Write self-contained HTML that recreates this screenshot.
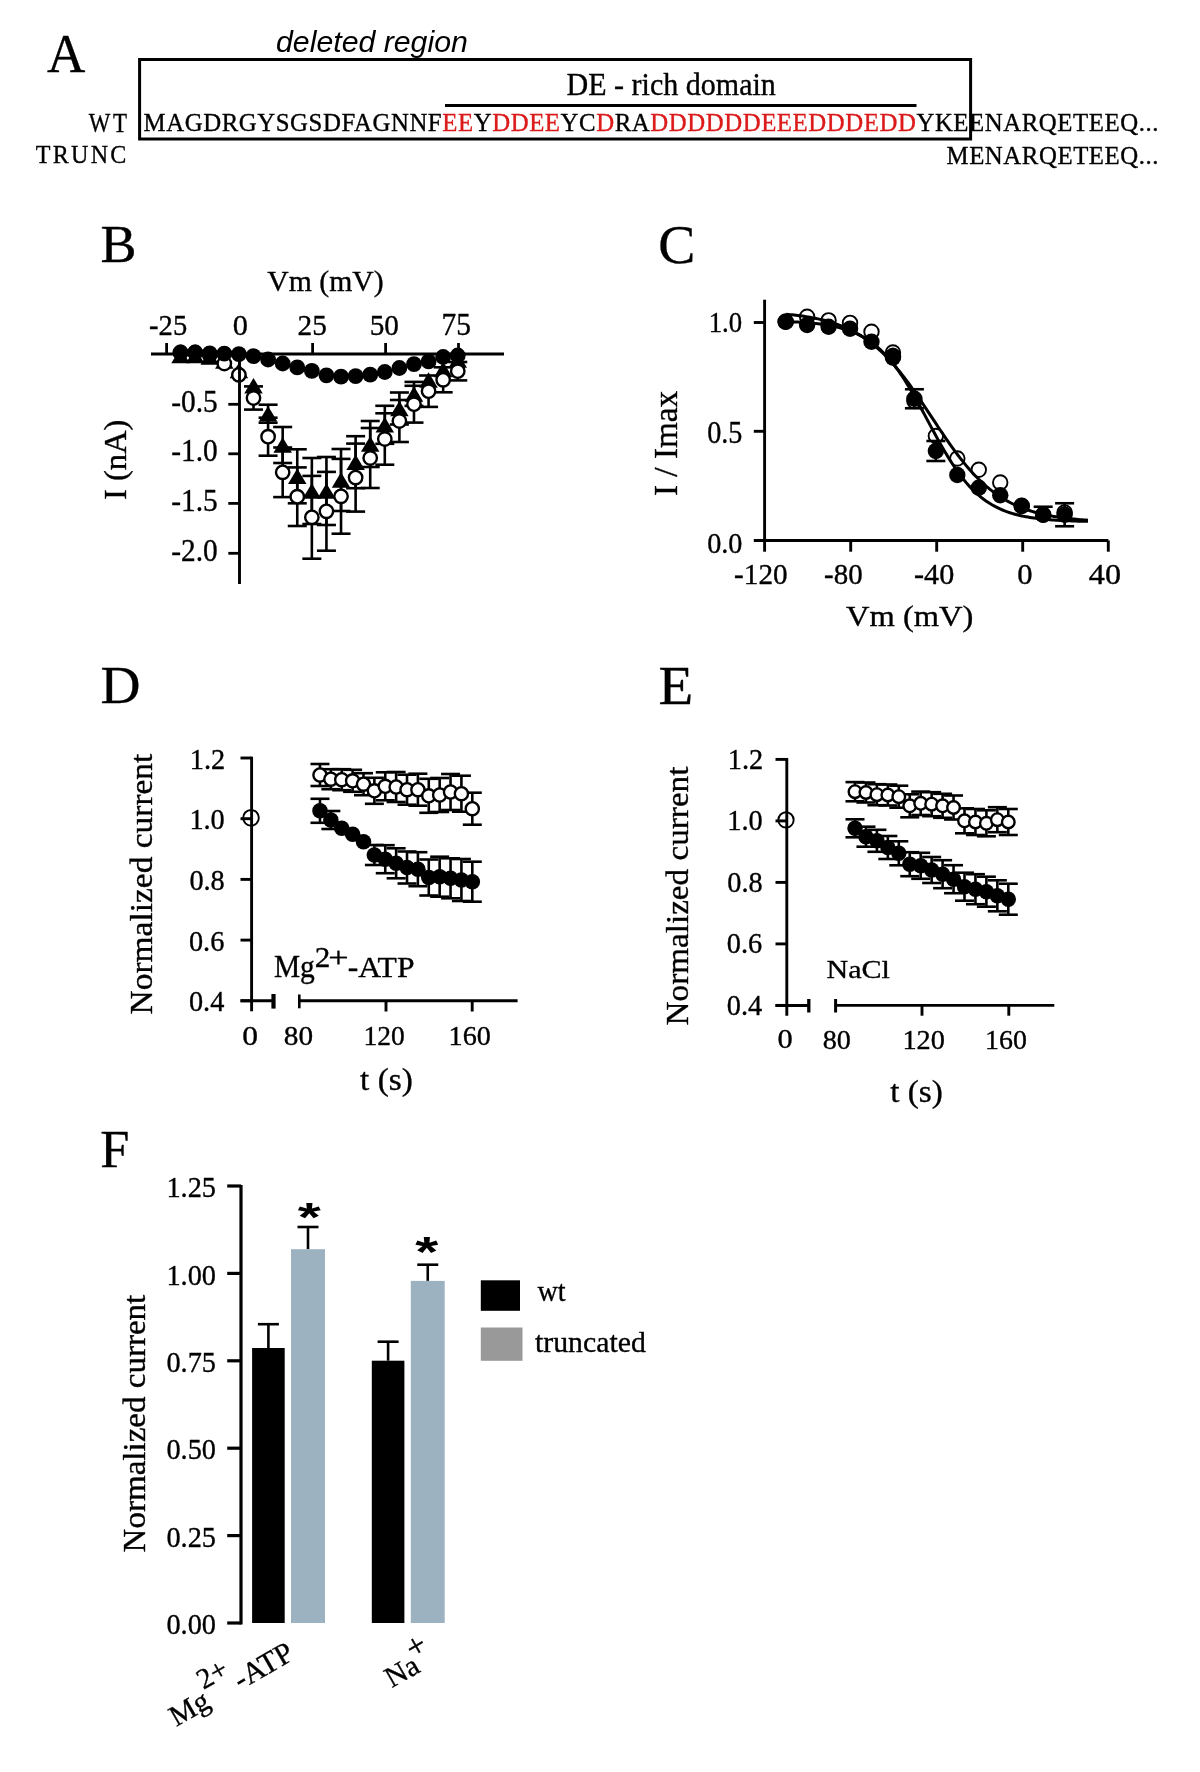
<!DOCTYPE html>
<html><head><meta charset="utf-8"><style>
html,body{margin:0;padding:0;background:#fff;}
svg{display:block;will-change:transform;}
text{font-kerning:normal;}
</style></head><body>
<svg width="1200" height="1772" viewBox="0 0 1200 1772">
<rect width="1200" height="1772" fill="#fff"/>
<text transform="translate(47.00,71.80) scale(0.9573,1)" font-family="'Liberation Serif', serif" font-size="55.52" fill="#000" stroke="#000" stroke-width="0.35" stroke-linejoin="round">A</text>
<text transform="translate(276.05,52.40) scale(0.9991,1)" font-family="'Liberation Sans', sans-serif" font-style="italic" font-size="30.30" fill="#000">deleted region</text>
<rect x="139.6" y="59.5" width="831" height="79.5" fill="none" stroke="#000" stroke-width="3"/>
<line x1="445.00" y1="105.50" x2="916.50" y2="105.50" stroke="#000" stroke-width="3.2" stroke-linecap="butt"/>
<text transform="translate(566.53,94.70) scale(0.9757,1)" font-family="'Liberation Serif', serif" font-size="30.80" fill="#000" stroke="#000" stroke-width="0.35" stroke-linejoin="round">DE - rich domain</text>
<text transform="translate(88.80,131.68) scale(0.8600,1)" font-family="'Liberation Serif', serif" font-size="26.64" letter-spacing="2.922" fill="#000" stroke="#000" stroke-width="0.35" stroke-linejoin="round">WT</text>
<text transform="translate(35.72,162.80) scale(0.9300,1)" font-family="'Liberation Serif', serif" font-size="25.89" letter-spacing="2.441" fill="#000" stroke="#000" stroke-width="0.35" stroke-linejoin="round">TRUNC</text>
<text transform="translate(143.61,130.67) scale(1.0000,1)" font-family="'Liberation Serif', serif" font-size="24.80" letter-spacing="0.572" fill="#000" stroke="#000" stroke-width="0.35" stroke-linejoin="round"><tspan>MAGDRGYSGSDFAGNNF</tspan><tspan fill="#dc1a1a" stroke="#dc1a1a">EE</tspan><tspan>Y</tspan><tspan fill="#dc1a1a" stroke="#dc1a1a">DDEE</tspan><tspan>YC</tspan><tspan fill="#dc1a1a" stroke="#dc1a1a">D</tspan><tspan>RA</tspan><tspan fill="#dc1a1a" stroke="#dc1a1a">DDDDDDEEEDDDEDD</tspan><tspan>YKEENARQETEEQ...</tspan></text>
<text transform="translate(946.53,164.00) scale(1.0000,1)" font-family="'Liberation Serif', serif" font-size="24.80" letter-spacing="0.572" fill="#000" stroke="#000" stroke-width="0.35" stroke-linejoin="round">MENARQETEEQ...</text>
<text transform="translate(100.46,261.69) scale(1.0364,1)" font-family="'Liberation Serif', serif" font-size="52.09" fill="#000" stroke="#000" stroke-width="0.35" stroke-linejoin="round">B</text>
<text transform="translate(267.30,291.29) scale(1.0290,1)" font-family="'Liberation Serif', serif" font-size="28.85" fill="#000" stroke="#000" stroke-width="0.35" stroke-linejoin="round">Vm (mV)</text>
<text transform="translate(149.11,334.73) scale(0.9535,1)" font-family="'Liberation Serif', serif" font-size="29.96" fill="#000" stroke="#000" stroke-width="0.35" stroke-linejoin="round">-25</text>
<text transform="translate(232.75,334.73) scale(1.0146,1)" font-family="'Liberation Serif', serif" font-size="29.96" fill="#000" stroke="#000" stroke-width="0.35" stroke-linejoin="round">0</text>
<text transform="translate(297.58,334.73) scale(0.9790,1)" font-family="'Liberation Serif', serif" font-size="29.96" fill="#000" stroke="#000" stroke-width="0.35" stroke-linejoin="round">25</text>
<text transform="translate(369.63,334.73) scale(0.9775,1)" font-family="'Liberation Serif', serif" font-size="29.96" fill="#000" stroke="#000" stroke-width="0.35" stroke-linejoin="round">50</text>
<text transform="translate(441.46,334.72) scale(0.9609,1)" font-family="'Liberation Serif', serif" font-size="30.66" fill="#000" stroke="#000" stroke-width="0.35" stroke-linejoin="round">75</text>
<text transform="translate(171.16,411.71) scale(0.9550,1)" font-family="'Liberation Serif', serif" font-size="30.80" fill="#000" stroke="#000" stroke-width="0.35" stroke-linejoin="round">-0.5</text>
<text transform="translate(171.16,461.41) scale(0.9550,1)" font-family="'Liberation Serif', serif" font-size="30.80" fill="#000" stroke="#000" stroke-width="0.35" stroke-linejoin="round">-1.0</text>
<text transform="translate(171.16,510.81) scale(0.9550,1)" font-family="'Liberation Serif', serif" font-size="30.80" fill="#000" stroke="#000" stroke-width="0.35" stroke-linejoin="round">-1.5</text>
<text transform="translate(171.16,560.71) scale(0.9550,1)" font-family="'Liberation Serif', serif" font-size="30.80" fill="#000" stroke="#000" stroke-width="0.35" stroke-linejoin="round">-2.0</text>
<text transform="translate(125.74,500.02) rotate(-90) scale(1.0523,1)" font-family="'Liberation Serif', serif" font-size="30.92" fill="#000" stroke="#000" stroke-width="0.35" stroke-linejoin="round">I (nA)</text>
<line x1="268.08" y1="404.70" x2="268.08" y2="422.70" stroke="#000" stroke-width="2.6" stroke-linecap="butt"/>
<line x1="258.58" y1="404.70" x2="277.58" y2="404.70" stroke="#000" stroke-width="2.6" stroke-linecap="butt"/>
<line x1="258.58" y1="422.70" x2="277.58" y2="422.70" stroke="#000" stroke-width="2.6" stroke-linecap="butt"/>
<line x1="282.67" y1="427.00" x2="282.67" y2="463.00" stroke="#000" stroke-width="2.6" stroke-linecap="butt"/>
<line x1="273.17" y1="427.00" x2="292.17" y2="427.00" stroke="#000" stroke-width="2.6" stroke-linecap="butt"/>
<line x1="273.17" y1="463.00" x2="292.17" y2="463.00" stroke="#000" stroke-width="2.6" stroke-linecap="butt"/>
<line x1="297.26" y1="449.30" x2="297.26" y2="503.30" stroke="#000" stroke-width="2.6" stroke-linecap="butt"/>
<line x1="287.76" y1="449.30" x2="306.76" y2="449.30" stroke="#000" stroke-width="2.6" stroke-linecap="butt"/>
<line x1="287.76" y1="503.30" x2="306.76" y2="503.30" stroke="#000" stroke-width="2.6" stroke-linecap="butt"/>
<line x1="311.85" y1="458.00" x2="311.85" y2="524.00" stroke="#000" stroke-width="2.6" stroke-linecap="butt"/>
<line x1="302.35" y1="458.00" x2="321.35" y2="458.00" stroke="#000" stroke-width="2.6" stroke-linecap="butt"/>
<line x1="302.35" y1="524.00" x2="321.35" y2="524.00" stroke="#000" stroke-width="2.6" stroke-linecap="butt"/>
<line x1="326.44" y1="457.00" x2="326.44" y2="525.00" stroke="#000" stroke-width="2.6" stroke-linecap="butt"/>
<line x1="316.94" y1="457.00" x2="335.94" y2="457.00" stroke="#000" stroke-width="2.6" stroke-linecap="butt"/>
<line x1="316.94" y1="525.00" x2="335.94" y2="525.00" stroke="#000" stroke-width="2.6" stroke-linecap="butt"/>
<line x1="341.03" y1="449.00" x2="341.03" y2="511.00" stroke="#000" stroke-width="2.6" stroke-linecap="butt"/>
<line x1="331.53" y1="449.00" x2="350.53" y2="449.00" stroke="#000" stroke-width="2.6" stroke-linecap="butt"/>
<line x1="331.53" y1="511.00" x2="350.53" y2="511.00" stroke="#000" stroke-width="2.6" stroke-linecap="butt"/>
<line x1="355.62" y1="436.20" x2="355.62" y2="488.20" stroke="#000" stroke-width="2.6" stroke-linecap="butt"/>
<line x1="346.12" y1="436.20" x2="365.12" y2="436.20" stroke="#000" stroke-width="2.6" stroke-linecap="butt"/>
<line x1="346.12" y1="488.20" x2="365.12" y2="488.20" stroke="#000" stroke-width="2.6" stroke-linecap="butt"/>
<line x1="370.21" y1="421.00" x2="370.21" y2="467.00" stroke="#000" stroke-width="2.6" stroke-linecap="butt"/>
<line x1="360.71" y1="421.00" x2="379.71" y2="421.00" stroke="#000" stroke-width="2.6" stroke-linecap="butt"/>
<line x1="360.71" y1="467.00" x2="379.71" y2="467.00" stroke="#000" stroke-width="2.6" stroke-linecap="butt"/>
<line x1="384.80" y1="405.80" x2="384.80" y2="443.80" stroke="#000" stroke-width="2.6" stroke-linecap="butt"/>
<line x1="375.30" y1="405.80" x2="394.30" y2="405.80" stroke="#000" stroke-width="2.6" stroke-linecap="butt"/>
<line x1="375.30" y1="443.80" x2="394.30" y2="443.80" stroke="#000" stroke-width="2.6" stroke-linecap="butt"/>
<line x1="399.39" y1="392.50" x2="399.39" y2="424.50" stroke="#000" stroke-width="2.6" stroke-linecap="butt"/>
<line x1="389.89" y1="392.50" x2="408.89" y2="392.50" stroke="#000" stroke-width="2.6" stroke-linecap="butt"/>
<line x1="389.89" y1="424.50" x2="408.89" y2="424.50" stroke="#000" stroke-width="2.6" stroke-linecap="butt"/>
<line x1="413.98" y1="381.90" x2="413.98" y2="405.90" stroke="#000" stroke-width="2.6" stroke-linecap="butt"/>
<line x1="404.48" y1="381.90" x2="423.48" y2="381.90" stroke="#000" stroke-width="2.6" stroke-linecap="butt"/>
<line x1="404.48" y1="405.90" x2="423.48" y2="405.90" stroke="#000" stroke-width="2.6" stroke-linecap="butt"/>
<path d="M180.54,347.75 L189.79,363.25 L171.29,363.25 Z" fill="#000"/>
<path d="M195.13,347.75 L204.38,363.25 L185.88,363.25 Z" fill="#000"/>
<path d="M209.72,349.25 L218.97,364.75 L200.47,364.75 Z" fill="#000"/>
<path d="M224.31,353.25 L233.56,368.75 L215.06,368.75 Z" fill="#000"/>
<path d="M238.90,362.75 L248.15,378.25 L229.65,378.25 Z" fill="#000"/>
<path d="M253.49,377.95 L262.74,393.45 L244.24,393.45 Z" fill="#000"/>
<path d="M268.08,405.95 L277.33,421.45 L258.83,421.45 Z" fill="#000"/>
<path d="M282.67,437.25 L291.92,452.75 L273.42,452.75 Z" fill="#000"/>
<path d="M297.26,468.55 L306.51,484.05 L288.01,484.05 Z" fill="#000"/>
<path d="M311.85,483.25 L321.10,498.75 L302.60,498.75 Z" fill="#000"/>
<path d="M326.44,483.25 L335.69,498.75 L317.19,498.75 Z" fill="#000"/>
<path d="M341.03,472.25 L350.28,487.75 L331.78,487.75 Z" fill="#000"/>
<path d="M355.62,454.45 L364.87,469.95 L346.37,469.95 Z" fill="#000"/>
<path d="M370.21,436.25 L379.46,451.75 L360.96,451.75 Z" fill="#000"/>
<path d="M384.80,417.05 L394.05,432.55 L375.55,432.55 Z" fill="#000"/>
<path d="M399.39,400.75 L408.64,416.25 L390.14,416.25 Z" fill="#000"/>
<path d="M413.98,386.15 L423.23,401.65 L404.73,401.65 Z" fill="#000"/>
<path d="M428.57,372.35 L437.82,387.85 L419.32,387.85 Z" fill="#000"/>
<path d="M443.16,361.75 L452.41,377.25 L433.91,377.25 Z" fill="#000"/>
<path d="M457.75,352.25 L467.00,367.75 L448.50,367.75 Z" fill="#000"/>
<line x1="253.49" y1="386.40" x2="253.49" y2="409.60" stroke="#000" stroke-width="2.6" stroke-linecap="butt"/>
<line x1="243.99" y1="386.40" x2="262.99" y2="386.40" stroke="#000" stroke-width="2.6" stroke-linecap="butt"/>
<line x1="243.99" y1="409.60" x2="262.99" y2="409.60" stroke="#000" stroke-width="2.6" stroke-linecap="butt"/>
<line x1="268.08" y1="417.70" x2="268.08" y2="455.70" stroke="#000" stroke-width="2.6" stroke-linecap="butt"/>
<line x1="258.58" y1="417.70" x2="277.58" y2="417.70" stroke="#000" stroke-width="2.6" stroke-linecap="butt"/>
<line x1="258.58" y1="455.70" x2="277.58" y2="455.70" stroke="#000" stroke-width="2.6" stroke-linecap="butt"/>
<line x1="282.67" y1="447.50" x2="282.67" y2="497.10" stroke="#000" stroke-width="2.6" stroke-linecap="butt"/>
<line x1="273.17" y1="447.50" x2="292.17" y2="447.50" stroke="#000" stroke-width="2.6" stroke-linecap="butt"/>
<line x1="273.17" y1="497.10" x2="292.17" y2="497.10" stroke="#000" stroke-width="2.6" stroke-linecap="butt"/>
<line x1="297.26" y1="467.40" x2="297.26" y2="526.00" stroke="#000" stroke-width="2.6" stroke-linecap="butt"/>
<line x1="287.76" y1="467.40" x2="306.76" y2="467.40" stroke="#000" stroke-width="2.6" stroke-linecap="butt"/>
<line x1="287.76" y1="526.00" x2="306.76" y2="526.00" stroke="#000" stroke-width="2.6" stroke-linecap="butt"/>
<line x1="311.85" y1="475.90" x2="311.85" y2="558.70" stroke="#000" stroke-width="2.6" stroke-linecap="butt"/>
<line x1="302.35" y1="475.90" x2="321.35" y2="475.90" stroke="#000" stroke-width="2.6" stroke-linecap="butt"/>
<line x1="302.35" y1="558.70" x2="321.35" y2="558.70" stroke="#000" stroke-width="2.6" stroke-linecap="butt"/>
<line x1="326.44" y1="471.90" x2="326.44" y2="550.70" stroke="#000" stroke-width="2.6" stroke-linecap="butt"/>
<line x1="316.94" y1="471.90" x2="335.94" y2="471.90" stroke="#000" stroke-width="2.6" stroke-linecap="butt"/>
<line x1="316.94" y1="550.70" x2="335.94" y2="550.70" stroke="#000" stroke-width="2.6" stroke-linecap="butt"/>
<line x1="341.03" y1="458.90" x2="341.03" y2="533.70" stroke="#000" stroke-width="2.6" stroke-linecap="butt"/>
<line x1="331.53" y1="458.90" x2="350.53" y2="458.90" stroke="#000" stroke-width="2.6" stroke-linecap="butt"/>
<line x1="331.53" y1="533.70" x2="350.53" y2="533.70" stroke="#000" stroke-width="2.6" stroke-linecap="butt"/>
<line x1="355.62" y1="443.60" x2="355.62" y2="511.60" stroke="#000" stroke-width="2.6" stroke-linecap="butt"/>
<line x1="346.12" y1="443.60" x2="365.12" y2="443.60" stroke="#000" stroke-width="2.6" stroke-linecap="butt"/>
<line x1="346.12" y1="511.60" x2="365.12" y2="511.60" stroke="#000" stroke-width="2.6" stroke-linecap="butt"/>
<line x1="370.21" y1="428.00" x2="370.21" y2="488.00" stroke="#000" stroke-width="2.6" stroke-linecap="butt"/>
<line x1="360.71" y1="428.00" x2="379.71" y2="428.00" stroke="#000" stroke-width="2.6" stroke-linecap="butt"/>
<line x1="360.71" y1="488.00" x2="379.71" y2="488.00" stroke="#000" stroke-width="2.6" stroke-linecap="butt"/>
<line x1="384.80" y1="413.30" x2="384.80" y2="464.70" stroke="#000" stroke-width="2.6" stroke-linecap="butt"/>
<line x1="375.30" y1="413.30" x2="394.30" y2="413.30" stroke="#000" stroke-width="2.6" stroke-linecap="butt"/>
<line x1="375.30" y1="464.70" x2="394.30" y2="464.70" stroke="#000" stroke-width="2.6" stroke-linecap="butt"/>
<line x1="399.39" y1="400.00" x2="399.39" y2="442.00" stroke="#000" stroke-width="2.6" stroke-linecap="butt"/>
<line x1="389.89" y1="400.00" x2="408.89" y2="400.00" stroke="#000" stroke-width="2.6" stroke-linecap="butt"/>
<line x1="389.89" y1="442.00" x2="408.89" y2="442.00" stroke="#000" stroke-width="2.6" stroke-linecap="butt"/>
<line x1="413.98" y1="385.80" x2="413.98" y2="422.60" stroke="#000" stroke-width="2.6" stroke-linecap="butt"/>
<line x1="404.48" y1="385.80" x2="423.48" y2="385.80" stroke="#000" stroke-width="2.6" stroke-linecap="butt"/>
<line x1="404.48" y1="422.60" x2="423.48" y2="422.60" stroke="#000" stroke-width="2.6" stroke-linecap="butt"/>
<line x1="428.57" y1="375.50" x2="428.57" y2="406.90" stroke="#000" stroke-width="2.6" stroke-linecap="butt"/>
<line x1="419.07" y1="375.50" x2="438.07" y2="375.50" stroke="#000" stroke-width="2.6" stroke-linecap="butt"/>
<line x1="419.07" y1="406.90" x2="438.07" y2="406.90" stroke="#000" stroke-width="2.6" stroke-linecap="butt"/>
<line x1="443.16" y1="367.30" x2="443.16" y2="392.30" stroke="#000" stroke-width="2.6" stroke-linecap="butt"/>
<line x1="433.66" y1="367.30" x2="452.66" y2="367.30" stroke="#000" stroke-width="2.6" stroke-linecap="butt"/>
<line x1="433.66" y1="392.30" x2="452.66" y2="392.30" stroke="#000" stroke-width="2.6" stroke-linecap="butt"/>
<line x1="457.75" y1="362.00" x2="457.75" y2="380.40" stroke="#000" stroke-width="2.6" stroke-linecap="butt"/>
<line x1="448.25" y1="362.00" x2="467.25" y2="362.00" stroke="#000" stroke-width="2.6" stroke-linecap="butt"/>
<line x1="448.25" y1="380.40" x2="467.25" y2="380.40" stroke="#000" stroke-width="2.6" stroke-linecap="butt"/>
<circle cx="180.54" cy="352.50" r="6.70" fill="#fff" stroke="#000" stroke-width="2.4"/>
<circle cx="195.13" cy="352.50" r="6.70" fill="#fff" stroke="#000" stroke-width="2.4"/>
<circle cx="209.72" cy="355.00" r="6.70" fill="#fff" stroke="#000" stroke-width="2.4"/>
<circle cx="224.31" cy="363.50" r="6.70" fill="#fff" stroke="#000" stroke-width="2.4"/>
<circle cx="238.90" cy="374.80" r="6.70" fill="#fff" stroke="#000" stroke-width="2.4"/>
<circle cx="253.49" cy="398.00" r="6.70" fill="#fff" stroke="#000" stroke-width="2.4"/>
<circle cx="268.08" cy="436.70" r="6.70" fill="#fff" stroke="#000" stroke-width="2.4"/>
<circle cx="282.67" cy="472.30" r="6.70" fill="#fff" stroke="#000" stroke-width="2.4"/>
<circle cx="297.26" cy="496.70" r="6.70" fill="#fff" stroke="#000" stroke-width="2.4"/>
<circle cx="311.85" cy="517.30" r="6.70" fill="#fff" stroke="#000" stroke-width="2.4"/>
<circle cx="326.44" cy="511.30" r="6.70" fill="#fff" stroke="#000" stroke-width="2.4"/>
<circle cx="341.03" cy="496.30" r="6.70" fill="#fff" stroke="#000" stroke-width="2.4"/>
<circle cx="355.62" cy="477.60" r="6.70" fill="#fff" stroke="#000" stroke-width="2.4"/>
<circle cx="370.21" cy="458.00" r="6.70" fill="#fff" stroke="#000" stroke-width="2.4"/>
<circle cx="384.80" cy="439.00" r="6.70" fill="#fff" stroke="#000" stroke-width="2.4"/>
<circle cx="399.39" cy="421.00" r="6.70" fill="#fff" stroke="#000" stroke-width="2.4"/>
<circle cx="413.98" cy="404.20" r="6.70" fill="#fff" stroke="#000" stroke-width="2.4"/>
<circle cx="428.57" cy="391.20" r="6.70" fill="#fff" stroke="#000" stroke-width="2.4"/>
<circle cx="443.16" cy="379.80" r="6.70" fill="#fff" stroke="#000" stroke-width="2.4"/>
<circle cx="457.75" cy="371.20" r="6.70" fill="#fff" stroke="#000" stroke-width="2.4"/>
<circle cx="180.54" cy="352.50" r="7.90" fill="#000"/>
<circle cx="195.13" cy="352.50" r="7.90" fill="#000"/>
<circle cx="209.72" cy="353.30" r="7.90" fill="#000"/>
<circle cx="224.31" cy="353.70" r="7.90" fill="#000"/>
<circle cx="238.90" cy="354.20" r="7.90" fill="#000"/>
<circle cx="253.49" cy="356.20" r="7.90" fill="#000"/>
<circle cx="268.08" cy="359.50" r="7.90" fill="#000"/>
<circle cx="282.67" cy="363.50" r="7.90" fill="#000"/>
<circle cx="297.26" cy="367.40" r="7.90" fill="#000"/>
<circle cx="311.85" cy="370.80" r="7.90" fill="#000"/>
<circle cx="326.44" cy="375.30" r="7.90" fill="#000"/>
<circle cx="341.03" cy="376.70" r="7.90" fill="#000"/>
<circle cx="355.62" cy="376.20" r="7.90" fill="#000"/>
<circle cx="370.21" cy="374.70" r="7.90" fill="#000"/>
<circle cx="384.80" cy="372.00" r="7.90" fill="#000"/>
<circle cx="399.39" cy="368.00" r="7.90" fill="#000"/>
<circle cx="413.98" cy="364.10" r="7.90" fill="#000"/>
<circle cx="428.57" cy="361.40" r="7.90" fill="#000"/>
<circle cx="443.16" cy="357.00" r="7.90" fill="#000"/>
<circle cx="457.75" cy="355.50" r="7.90" fill="#000"/>
<line x1="151.00" y1="354.00" x2="504.00" y2="354.00" stroke="#000" stroke-width="2.8" stroke-linecap="butt"/>
<line x1="239.50" y1="352.60" x2="239.50" y2="584.00" stroke="#000" stroke-width="2.9" stroke-linecap="butt"/>
<line x1="166.60" y1="343.00" x2="166.60" y2="354.00" stroke="#000" stroke-width="2.8" stroke-linecap="butt"/>
<line x1="312.60" y1="343.00" x2="312.60" y2="354.00" stroke="#000" stroke-width="2.8" stroke-linecap="butt"/>
<line x1="385.60" y1="343.00" x2="385.60" y2="354.00" stroke="#000" stroke-width="2.8" stroke-linecap="butt"/>
<line x1="458.50" y1="343.00" x2="458.50" y2="354.00" stroke="#000" stroke-width="2.8" stroke-linecap="butt"/>
<line x1="228.30" y1="404.30" x2="239.50" y2="404.30" stroke="#000" stroke-width="2.8" stroke-linecap="butt"/>
<line x1="228.30" y1="453.80" x2="239.50" y2="453.80" stroke="#000" stroke-width="2.8" stroke-linecap="butt"/>
<line x1="228.30" y1="503.40" x2="239.50" y2="503.40" stroke="#000" stroke-width="2.8" stroke-linecap="butt"/>
<line x1="228.30" y1="553.30" x2="239.50" y2="553.30" stroke="#000" stroke-width="2.8" stroke-linecap="butt"/>
<text transform="translate(658.26,263.35) scale(1.0189,1)" font-family="'Liberation Serif', serif" font-size="54.55" fill="#000" stroke="#000" stroke-width="0.35" stroke-linejoin="round">C</text>
<text transform="translate(708.71,331.54) scale(0.9056,1)" font-family="'Liberation Serif', serif" font-size="29.53" fill="#000" stroke="#000" stroke-width="0.35" stroke-linejoin="round">1.0</text>
<text transform="translate(707.22,442.52) scale(0.9236,1)" font-family="'Liberation Serif', serif" font-size="30.55" fill="#000" stroke="#000" stroke-width="0.35" stroke-linejoin="round">0.5</text>
<text transform="translate(707.22,553.24) scale(0.9554,1)" font-family="'Liberation Serif', serif" font-size="29.53" fill="#000" stroke="#000" stroke-width="0.35" stroke-linejoin="round">0.0</text>
<text transform="translate(734.09,583.55) scale(1.0139,1)" font-family="'Liberation Serif', serif" font-size="28.80" fill="#000" stroke="#000" stroke-width="0.35" stroke-linejoin="round">-120</text>
<text transform="translate(824.10,583.55) scale(1.0030,1)" font-family="'Liberation Serif', serif" font-size="28.80" fill="#000" stroke="#000" stroke-width="0.35" stroke-linejoin="round">-80</text>
<text transform="translate(914.06,583.55) scale(1.0467,1)" font-family="'Liberation Serif', serif" font-size="28.80" fill="#000" stroke="#000" stroke-width="0.35" stroke-linejoin="round">-40</text>
<text transform="translate(1017.34,583.55) scale(1.0635,1)" font-family="'Liberation Serif', serif" font-size="28.80" fill="#000" stroke="#000" stroke-width="0.35" stroke-linejoin="round">0</text>
<text transform="translate(1088.80,583.55) scale(1.1184,1)" font-family="'Liberation Serif', serif" font-size="28.80" fill="#000" stroke="#000" stroke-width="0.35" stroke-linejoin="round">40</text>
<text transform="translate(846.00,626.13) scale(1.0834,1)" font-family="'Liberation Serif', serif" font-size="30.05" fill="#000" stroke="#000" stroke-width="0.35" stroke-linejoin="round">Vm (mV)</text>
<text transform="translate(676.98,496.04) rotate(-90) scale(0.9981,1)" font-family="'Liberation Serif', serif" font-size="33.31" fill="#000" stroke="#000" stroke-width="0.35" stroke-linejoin="round">I / Imax</text>
<line x1="764.60" y1="299.70" x2="764.60" y2="551.70" stroke="#000" stroke-width="2.9" stroke-linecap="butt"/>
<line x1="753.80" y1="540.50" x2="1108.30" y2="540.50" stroke="#000" stroke-width="2.9" stroke-linecap="butt"/>
<line x1="753.80" y1="322.50" x2="764.60" y2="322.50" stroke="#000" stroke-width="2.9" stroke-linecap="butt"/>
<line x1="753.80" y1="431.30" x2="764.60" y2="431.30" stroke="#000" stroke-width="2.9" stroke-linecap="butt"/>
<line x1="850.70" y1="540.50" x2="850.70" y2="551.70" stroke="#000" stroke-width="2.9" stroke-linecap="butt"/>
<line x1="936.70" y1="540.50" x2="936.70" y2="551.70" stroke="#000" stroke-width="2.9" stroke-linecap="butt"/>
<line x1="1022.70" y1="540.50" x2="1022.70" y2="551.70" stroke="#000" stroke-width="2.9" stroke-linecap="butt"/>
<line x1="1108.30" y1="540.50" x2="1108.30" y2="551.70" stroke="#000" stroke-width="2.9" stroke-linecap="butt"/>
<circle cx="785.64" cy="321.70" r="7.25" fill="#fff" stroke="#000" stroke-width="1.9"/>
<circle cx="807.10" cy="316.70" r="7.25" fill="#fff" stroke="#000" stroke-width="1.9"/>
<circle cx="828.56" cy="320.40" r="7.25" fill="#fff" stroke="#000" stroke-width="1.9"/>
<circle cx="850.02" cy="322.90" r="7.25" fill="#fff" stroke="#000" stroke-width="1.9"/>
<circle cx="871.48" cy="331.70" r="7.25" fill="#fff" stroke="#000" stroke-width="1.9"/>
<circle cx="892.94" cy="352.50" r="7.25" fill="#fff" stroke="#000" stroke-width="1.9"/>
<circle cx="914.40" cy="401.00" r="7.25" fill="#fff" stroke="#000" stroke-width="1.9"/>
<circle cx="935.86" cy="436.00" r="7.25" fill="#fff" stroke="#000" stroke-width="1.9"/>
<circle cx="957.32" cy="458.50" r="7.25" fill="#fff" stroke="#000" stroke-width="1.9"/>
<circle cx="978.78" cy="469.75" r="7.25" fill="#fff" stroke="#000" stroke-width="1.9"/>
<circle cx="1000.24" cy="482.50" r="7.25" fill="#fff" stroke="#000" stroke-width="1.9"/>
<circle cx="1021.70" cy="506.00" r="7.25" fill="#fff" stroke="#000" stroke-width="1.9"/>
<circle cx="1043.16" cy="514.75" r="7.25" fill="#fff" stroke="#000" stroke-width="1.9"/>
<circle cx="1064.62" cy="512.50" r="7.25" fill="#fff" stroke="#000" stroke-width="1.9"/>
<polyline points="786.0,321.53 788.0,321.60 790.0,321.69 792.0,321.78 794.0,321.88 796.0,321.98 798.0,322.10 800.0,322.22 802.0,322.35 804.0,322.49 806.0,322.64 808.0,322.81 810.0,322.98 812.0,323.17 814.0,323.38 816.0,323.59 818.0,323.83 820.0,324.08 822.0,324.35 824.0,324.64 826.0,324.95 828.0,325.29 830.0,325.65 832.0,326.04 834.0,326.45 836.0,326.89 838.0,327.37 840.0,327.88 842.0,328.43 844.0,329.01 846.0,329.64 848.0,330.31 850.0,331.02 852.0,331.79 854.0,332.61 856.0,333.48 858.0,334.41 860.0,335.41 862.0,336.47 864.0,337.59 866.0,338.79 868.0,340.06 870.0,341.41 872.0,342.85 874.0,344.37 876.0,345.97 878.0,347.67 880.0,349.47 882.0,351.36 884.0,353.35 886.0,355.44 888.0,357.64 890.0,359.94 892.0,362.35 894.0,364.87 896.0,367.49 898.0,370.22 900.0,373.05 902.0,375.98 904.0,379.02 906.0,382.15 908.0,385.37 910.0,388.68 912.0,392.07 914.0,395.53 916.0,399.06 918.0,402.64 920.0,406.28 922.0,409.95 924.0,413.66 926.0,417.39 928.0,421.13 930.0,424.86 932.0,428.59 934.0,432.30 936.0,435.98 938.0,439.61 940.0,443.20 942.0,446.73 944.0,450.20 946.0,453.59 948.0,456.90 950.0,460.12 952.0,463.26 954.0,466.30 956.0,469.24 958.0,472.07 960.0,474.81 962.0,477.43 964.0,479.95 966.0,482.37 968.0,484.67 970.0,486.87 972.0,488.97 974.0,490.97 976.0,492.86 978.0,494.66 980.0,496.36 982.0,497.97 984.0,499.49 986.0,500.93 988.0,502.28 990.0,503.56 992.0,504.76 994.0,505.89 996.0,506.95 998.0,507.95 1000.0,508.88 1002.0,509.76 1004.0,510.58 1006.0,511.35 1008.0,512.06 1010.0,512.74 1012.0,513.36 1014.0,513.95 1016.0,514.50 1018.0,515.01 1020.0,515.49 1022.0,515.93 1024.0,516.35 1026.0,516.74 1028.0,517.10 1030.0,517.43 1032.0,517.75 1034.0,518.04 1036.0,518.31 1038.0,518.56 1040.0,518.80 1042.0,519.02 1044.0,519.22 1046.0,519.41 1048.0,519.59 1050.0,519.75 1052.0,519.90 1054.0,520.04 1056.0,520.18 1058.0,520.30 1060.0,520.41 1062.0,520.52 1064.0,520.62 1066.0,520.71 1068.0,520.79 1070.0,520.87 1072.0,520.94 1074.0,521.01 1076.0,521.08 1078.0,521.13 1080.0,521.19 1082.0,521.24 1084.0,521.29 1086.0,521.33 1088.0,521.37" fill="none" stroke="#000" stroke-width="3"/>
<polyline points="786.0,314.26 788.0,314.44 790.0,314.64 792.0,314.85 794.0,315.07 796.0,315.30 798.0,315.54 800.0,315.80 802.0,316.08 804.0,316.36 806.0,316.67 808.0,316.99 810.0,317.33 812.0,317.69 814.0,318.07 816.0,318.47 818.0,318.89 820.0,319.34 822.0,319.81 824.0,320.30 826.0,320.82 828.0,321.37 830.0,321.95 832.0,322.56 834.0,323.20 836.0,323.87 838.0,324.58 840.0,325.33 842.0,326.11 844.0,326.93 846.0,327.80 848.0,328.70 850.0,329.66 852.0,330.65 854.0,331.70 856.0,332.79 858.0,333.94 860.0,335.14 862.0,336.39 864.0,337.70 866.0,339.07 868.0,340.49 870.0,341.98 872.0,343.53 874.0,345.14 876.0,346.81 878.0,348.55 880.0,350.35 882.0,352.22 884.0,354.16 886.0,356.17 888.0,358.24 890.0,360.38 892.0,362.58 894.0,364.85 896.0,367.19 898.0,369.59 900.0,372.05 902.0,374.57 904.0,377.16 906.0,379.79 908.0,382.48 910.0,385.23 912.0,388.02 914.0,390.85 916.0,393.72 918.0,396.63 920.0,399.57 922.0,402.54 924.0,405.54 926.0,408.55 928.0,411.57 930.0,414.60 932.0,417.64 934.0,420.68 936.0,423.70 938.0,426.72 940.0,429.72 942.0,432.70 944.0,435.66 946.0,438.58 948.0,441.47 950.0,444.32 952.0,447.13 954.0,449.90 956.0,452.61 958.0,455.27 960.0,457.88 962.0,460.43 964.0,462.92 966.0,465.35 968.0,467.71 970.0,470.01 972.0,472.25 974.0,474.42 976.0,476.52 978.0,478.55 980.0,480.52 982.0,482.42 984.0,484.26 986.0,486.03 988.0,487.73 990.0,489.37 992.0,490.94 994.0,492.46 996.0,493.91 998.0,495.30 1000.0,496.64 1002.0,497.91 1004.0,499.14 1006.0,500.31 1008.0,501.42 1010.0,502.49 1012.0,503.51 1014.0,504.48 1016.0,505.41 1018.0,506.29 1020.0,507.13 1022.0,507.93 1024.0,508.70 1026.0,509.42 1028.0,510.11 1030.0,510.77 1032.0,511.39 1034.0,511.98 1036.0,512.54 1038.0,513.08 1040.0,513.58 1042.0,514.06 1044.0,514.52 1046.0,514.95 1048.0,515.36 1050.0,515.75 1052.0,516.12 1054.0,516.47 1056.0,516.80 1058.0,517.11 1060.0,517.41 1062.0,517.69 1064.0,517.95 1066.0,518.20 1068.0,518.44 1070.0,518.67 1072.0,518.88 1074.0,519.08 1076.0,519.27 1078.0,519.45 1080.0,519.62 1082.0,519.78 1084.0,519.94 1086.0,520.08 1088.0,520.22" fill="none" stroke="#000" stroke-width="3"/>
<line x1="914.40" y1="389.25" x2="914.40" y2="408.25" stroke="#000" stroke-width="2.6" stroke-linecap="butt"/>
<line x1="904.90" y1="389.25" x2="923.90" y2="389.25" stroke="#000" stroke-width="2.6" stroke-linecap="butt"/>
<line x1="904.90" y1="408.25" x2="923.90" y2="408.25" stroke="#000" stroke-width="2.6" stroke-linecap="butt"/>
<line x1="935.86" y1="441.00" x2="935.86" y2="461.00" stroke="#000" stroke-width="2.6" stroke-linecap="butt"/>
<line x1="926.36" y1="441.00" x2="945.36" y2="441.00" stroke="#000" stroke-width="2.6" stroke-linecap="butt"/>
<line x1="926.36" y1="461.00" x2="945.36" y2="461.00" stroke="#000" stroke-width="2.6" stroke-linecap="butt"/>
<line x1="1043.16" y1="506.75" x2="1043.16" y2="514.75" stroke="#000" stroke-width="2.6" stroke-linecap="butt"/>
<line x1="1033.66" y1="506.75" x2="1052.66" y2="506.75" stroke="#000" stroke-width="2.6" stroke-linecap="butt"/>
<line x1="1064.62" y1="503.25" x2="1064.62" y2="526.25" stroke="#000" stroke-width="2.6" stroke-linecap="butt"/>
<line x1="1055.12" y1="503.25" x2="1074.12" y2="503.25" stroke="#000" stroke-width="2.6" stroke-linecap="butt"/>
<line x1="1055.12" y1="526.25" x2="1074.12" y2="526.25" stroke="#000" stroke-width="2.6" stroke-linecap="butt"/>
<circle cx="785.64" cy="321.70" r="8.20" fill="#000"/>
<circle cx="807.10" cy="325.00" r="8.20" fill="#000"/>
<circle cx="828.56" cy="326.70" r="8.20" fill="#000"/>
<circle cx="850.02" cy="328.75" r="8.20" fill="#000"/>
<circle cx="871.48" cy="341.70" r="8.20" fill="#000"/>
<circle cx="892.94" cy="356.70" r="8.20" fill="#000"/>
<circle cx="914.40" cy="398.75" r="8.20" fill="#000"/>
<circle cx="935.86" cy="451.00" r="8.20" fill="#000"/>
<circle cx="957.32" cy="475.00" r="8.20" fill="#000"/>
<circle cx="978.78" cy="487.75" r="8.20" fill="#000"/>
<circle cx="1000.24" cy="495.25" r="8.20" fill="#000"/>
<circle cx="1021.70" cy="505.75" r="8.20" fill="#000"/>
<circle cx="1043.16" cy="514.75" r="8.20" fill="#000"/>
<circle cx="1064.62" cy="514.75" r="8.20" fill="#000"/>
<ellipse cx="892.94" cy="356.7" rx="8.3" ry="9.2" fill="#000"/>
<text transform="translate(100.53,703.18) scale(1.0568,1)" font-family="'Liberation Serif', serif" font-size="52.39" fill="#000" stroke="#000" stroke-width="0.35" stroke-linejoin="round">D</text>
<text transform="translate(189.83,768.68) scale(0.9600,1)" font-family="'Liberation Serif', serif" font-size="29.50" fill="#000" stroke="#000" stroke-width="0.35" stroke-linejoin="round">1.2</text>
<text transform="translate(189.38,829.38) scale(0.9600,1)" font-family="'Liberation Serif', serif" font-size="29.50" fill="#000" stroke="#000" stroke-width="0.35" stroke-linejoin="round">1.0</text>
<text transform="translate(189.39,890.08) scale(0.9600,1)" font-family="'Liberation Serif', serif" font-size="29.50" fill="#000" stroke="#000" stroke-width="0.35" stroke-linejoin="round">0.8</text>
<text transform="translate(188.94,950.78) scale(0.9600,1)" font-family="'Liberation Serif', serif" font-size="29.50" fill="#000" stroke="#000" stroke-width="0.35" stroke-linejoin="round">0.6</text>
<text transform="translate(188.94,1011.48) scale(0.9600,1)" font-family="'Liberation Serif', serif" font-size="29.50" fill="#000" stroke="#000" stroke-width="0.35" stroke-linejoin="round">0.4</text>
<text transform="translate(151.90,1014.42) rotate(-90) scale(1.0447,1)" font-family="'Liberation Serif', serif" font-size="32.00" fill="#000" stroke="#000" stroke-width="0.35" stroke-linejoin="round">Normalized current</text>
<line x1="251.60" y1="756.70" x2="251.60" y2="1011.30" stroke="#000" stroke-width="2.9" stroke-linecap="butt"/>
<line x1="240.50" y1="758.00" x2="251.60" y2="758.00" stroke="#000" stroke-width="2.9" stroke-linecap="butt"/>
<line x1="240.50" y1="818.70" x2="251.60" y2="818.70" stroke="#000" stroke-width="2.9" stroke-linecap="butt"/>
<line x1="240.50" y1="879.40" x2="251.60" y2="879.40" stroke="#000" stroke-width="2.9" stroke-linecap="butt"/>
<line x1="240.50" y1="940.10" x2="251.60" y2="940.10" stroke="#000" stroke-width="2.9" stroke-linecap="butt"/>
<line x1="240.50" y1="1000.80" x2="251.60" y2="1000.80" stroke="#000" stroke-width="2.9" stroke-linecap="butt"/>
<line x1="240.50" y1="1000.80" x2="273.50" y2="1000.80" stroke="#000" stroke-width="2.9" stroke-linecap="butt"/>
<line x1="273.50" y1="994.00" x2="273.50" y2="1008.60" stroke="#000" stroke-width="4.2" stroke-linecap="butt"/>
<line x1="299.40" y1="1000.80" x2="517.60" y2="1000.80" stroke="#000" stroke-width="2.9" stroke-linecap="butt"/>
<line x1="299.30" y1="994.50" x2="299.30" y2="1008.30" stroke="#000" stroke-width="2.6" stroke-linecap="butt"/>
<line x1="386.00" y1="1000.80" x2="386.00" y2="1011.50" stroke="#000" stroke-width="2.9" stroke-linecap="butt"/>
<line x1="472.20" y1="1000.80" x2="472.20" y2="1011.50" stroke="#000" stroke-width="2.9" stroke-linecap="butt"/>
<text transform="translate(242.21,1044.86) scale(1.1236,1)" font-family="'Liberation Serif', serif" font-size="28.07" fill="#000" stroke="#000" stroke-width="0.35" stroke-linejoin="round">0</text>
<text transform="translate(283.83,1044.58) scale(1.0765,1)" font-family="'Liberation Serif', serif" font-size="27.20" fill="#000" stroke="#000" stroke-width="0.35" stroke-linejoin="round">80</text>
<text transform="translate(363.60,1044.58) scale(1.0112,1)" font-family="'Liberation Serif', serif" font-size="27.20" fill="#000" stroke="#000" stroke-width="0.35" stroke-linejoin="round">120</text>
<text transform="translate(448.60,1044.58) scale(1.0364,1)" font-family="'Liberation Serif', serif" font-size="27.20" fill="#000" stroke="#000" stroke-width="0.35" stroke-linejoin="round">160</text>
<text transform="translate(360.10,1090.08) scale(1.0369,1)" font-family="'Liberation Serif', serif" font-size="32.11" fill="#000" stroke="#000" stroke-width="0.35" stroke-linejoin="round">t (s)</text>
<text transform="translate(273.94,976.90) scale(0.9658,1)" font-family="'Liberation Serif', serif" font-size="30.50" fill="#000" stroke="#000" stroke-width="0.35" stroke-linejoin="round">Mg</text>
<text transform="translate(314.63,966.90) scale(1.0861,1)" font-family="'Liberation Serif', serif" font-size="28.70" fill="#000" stroke="#000" stroke-width="0.35" stroke-linejoin="round">2</text>
<text transform="translate(328.31,966.90) scale(1.2562,1)" font-family="'Liberation Serif', serif" font-size="28.70" fill="#000" stroke="#000" stroke-width="0.35" stroke-linejoin="round">+</text>
<text transform="translate(347.76,976.90) scale(1.0370,1)" font-family="'Liberation Serif', serif" font-size="30.50" fill="#000" stroke="#000" stroke-width="0.35" stroke-linejoin="round">-ATP</text>
<circle cx="251.00" cy="817.80" r="7.85" fill="none" stroke="#000" stroke-width="1.9"/>
<line x1="319.98" y1="764.00" x2="319.98" y2="786.00" stroke="#000" stroke-width="2.6" stroke-linecap="butt"/>
<line x1="310.48" y1="764.00" x2="329.48" y2="764.00" stroke="#000" stroke-width="2.6" stroke-linecap="butt"/>
<line x1="310.48" y1="786.00" x2="329.48" y2="786.00" stroke="#000" stroke-width="2.6" stroke-linecap="butt"/>
<line x1="330.86" y1="769.20" x2="330.86" y2="789.20" stroke="#000" stroke-width="2.6" stroke-linecap="butt"/>
<line x1="321.36" y1="769.20" x2="340.36" y2="769.20" stroke="#000" stroke-width="2.6" stroke-linecap="butt"/>
<line x1="321.36" y1="789.20" x2="340.36" y2="789.20" stroke="#000" stroke-width="2.6" stroke-linecap="butt"/>
<line x1="341.74" y1="769.20" x2="341.74" y2="790.20" stroke="#000" stroke-width="2.6" stroke-linecap="butt"/>
<line x1="332.24" y1="769.20" x2="351.24" y2="769.20" stroke="#000" stroke-width="2.6" stroke-linecap="butt"/>
<line x1="332.24" y1="790.20" x2="351.24" y2="790.20" stroke="#000" stroke-width="2.6" stroke-linecap="butt"/>
<line x1="352.62" y1="769.80" x2="352.62" y2="791.80" stroke="#000" stroke-width="2.6" stroke-linecap="butt"/>
<line x1="343.12" y1="769.80" x2="362.12" y2="769.80" stroke="#000" stroke-width="2.6" stroke-linecap="butt"/>
<line x1="343.12" y1="791.80" x2="362.12" y2="791.80" stroke="#000" stroke-width="2.6" stroke-linecap="butt"/>
<line x1="363.50" y1="773.20" x2="363.50" y2="795.20" stroke="#000" stroke-width="2.6" stroke-linecap="butt"/>
<line x1="354.00" y1="773.20" x2="373.00" y2="773.20" stroke="#000" stroke-width="2.6" stroke-linecap="butt"/>
<line x1="354.00" y1="795.20" x2="373.00" y2="795.20" stroke="#000" stroke-width="2.6" stroke-linecap="butt"/>
<line x1="374.38" y1="777.80" x2="374.38" y2="803.80" stroke="#000" stroke-width="2.6" stroke-linecap="butt"/>
<line x1="364.88" y1="777.80" x2="383.88" y2="777.80" stroke="#000" stroke-width="2.6" stroke-linecap="butt"/>
<line x1="364.88" y1="803.80" x2="383.88" y2="803.80" stroke="#000" stroke-width="2.6" stroke-linecap="butt"/>
<line x1="385.26" y1="772.30" x2="385.26" y2="800.30" stroke="#000" stroke-width="2.6" stroke-linecap="butt"/>
<line x1="375.76" y1="772.30" x2="394.76" y2="772.30" stroke="#000" stroke-width="2.6" stroke-linecap="butt"/>
<line x1="375.76" y1="800.30" x2="394.76" y2="800.30" stroke="#000" stroke-width="2.6" stroke-linecap="butt"/>
<line x1="396.14" y1="772.00" x2="396.14" y2="802.00" stroke="#000" stroke-width="2.6" stroke-linecap="butt"/>
<line x1="386.64" y1="772.00" x2="405.64" y2="772.00" stroke="#000" stroke-width="2.6" stroke-linecap="butt"/>
<line x1="386.64" y1="802.00" x2="405.64" y2="802.00" stroke="#000" stroke-width="2.6" stroke-linecap="butt"/>
<line x1="407.02" y1="774.70" x2="407.02" y2="804.70" stroke="#000" stroke-width="2.6" stroke-linecap="butt"/>
<line x1="397.52" y1="774.70" x2="416.52" y2="774.70" stroke="#000" stroke-width="2.6" stroke-linecap="butt"/>
<line x1="397.52" y1="804.70" x2="416.52" y2="804.70" stroke="#000" stroke-width="2.6" stroke-linecap="butt"/>
<line x1="417.90" y1="773.70" x2="417.90" y2="805.70" stroke="#000" stroke-width="2.6" stroke-linecap="butt"/>
<line x1="408.40" y1="773.70" x2="427.40" y2="773.70" stroke="#000" stroke-width="2.6" stroke-linecap="butt"/>
<line x1="408.40" y1="805.70" x2="427.40" y2="805.70" stroke="#000" stroke-width="2.6" stroke-linecap="butt"/>
<line x1="428.78" y1="778.80" x2="428.78" y2="812.80" stroke="#000" stroke-width="2.6" stroke-linecap="butt"/>
<line x1="419.28" y1="778.80" x2="438.28" y2="778.80" stroke="#000" stroke-width="2.6" stroke-linecap="butt"/>
<line x1="419.28" y1="812.80" x2="438.28" y2="812.80" stroke="#000" stroke-width="2.6" stroke-linecap="butt"/>
<line x1="439.66" y1="778.00" x2="439.66" y2="812.00" stroke="#000" stroke-width="2.6" stroke-linecap="butt"/>
<line x1="430.16" y1="778.00" x2="449.16" y2="778.00" stroke="#000" stroke-width="2.6" stroke-linecap="butt"/>
<line x1="430.16" y1="812.00" x2="449.16" y2="812.00" stroke="#000" stroke-width="2.6" stroke-linecap="butt"/>
<line x1="450.54" y1="774.00" x2="450.54" y2="810.00" stroke="#000" stroke-width="2.6" stroke-linecap="butt"/>
<line x1="441.04" y1="774.00" x2="460.04" y2="774.00" stroke="#000" stroke-width="2.6" stroke-linecap="butt"/>
<line x1="441.04" y1="810.00" x2="460.04" y2="810.00" stroke="#000" stroke-width="2.6" stroke-linecap="butt"/>
<line x1="461.42" y1="775.70" x2="461.42" y2="811.70" stroke="#000" stroke-width="2.6" stroke-linecap="butt"/>
<line x1="451.92" y1="775.70" x2="470.92" y2="775.70" stroke="#000" stroke-width="2.6" stroke-linecap="butt"/>
<line x1="451.92" y1="811.70" x2="470.92" y2="811.70" stroke="#000" stroke-width="2.6" stroke-linecap="butt"/>
<line x1="472.30" y1="792.70" x2="472.30" y2="824.70" stroke="#000" stroke-width="2.6" stroke-linecap="butt"/>
<line x1="462.80" y1="792.70" x2="481.80" y2="792.70" stroke="#000" stroke-width="2.6" stroke-linecap="butt"/>
<line x1="462.80" y1="824.70" x2="481.80" y2="824.70" stroke="#000" stroke-width="2.6" stroke-linecap="butt"/>
<circle cx="319.98" cy="775.00" r="6.60" fill="#fff" stroke="#000" stroke-width="2.4"/>
<circle cx="330.86" cy="779.20" r="6.60" fill="#fff" stroke="#000" stroke-width="2.4"/>
<circle cx="341.74" cy="779.70" r="6.60" fill="#fff" stroke="#000" stroke-width="2.4"/>
<circle cx="352.62" cy="780.80" r="6.60" fill="#fff" stroke="#000" stroke-width="2.4"/>
<circle cx="363.50" cy="784.20" r="6.60" fill="#fff" stroke="#000" stroke-width="2.4"/>
<circle cx="374.38" cy="790.80" r="6.60" fill="#fff" stroke="#000" stroke-width="2.4"/>
<circle cx="385.26" cy="786.30" r="6.60" fill="#fff" stroke="#000" stroke-width="2.4"/>
<circle cx="396.14" cy="787.00" r="6.60" fill="#fff" stroke="#000" stroke-width="2.4"/>
<circle cx="407.02" cy="789.70" r="6.60" fill="#fff" stroke="#000" stroke-width="2.4"/>
<circle cx="417.90" cy="789.70" r="6.60" fill="#fff" stroke="#000" stroke-width="2.4"/>
<circle cx="428.78" cy="795.80" r="6.60" fill="#fff" stroke="#000" stroke-width="2.4"/>
<circle cx="439.66" cy="795.00" r="6.60" fill="#fff" stroke="#000" stroke-width="2.4"/>
<circle cx="450.54" cy="792.00" r="6.60" fill="#fff" stroke="#000" stroke-width="2.4"/>
<circle cx="461.42" cy="793.70" r="6.60" fill="#fff" stroke="#000" stroke-width="2.4"/>
<circle cx="472.30" cy="808.70" r="6.60" fill="#fff" stroke="#000" stroke-width="2.4"/>
<line x1="319.98" y1="798.80" x2="319.98" y2="822.80" stroke="#000" stroke-width="2.6" stroke-linecap="butt"/>
<line x1="310.48" y1="798.80" x2="329.48" y2="798.80" stroke="#000" stroke-width="2.6" stroke-linecap="butt"/>
<line x1="310.48" y1="822.80" x2="329.48" y2="822.80" stroke="#000" stroke-width="2.6" stroke-linecap="butt"/>
<line x1="330.86" y1="811.00" x2="330.86" y2="829.00" stroke="#000" stroke-width="2.6" stroke-linecap="butt"/>
<line x1="321.36" y1="811.00" x2="340.36" y2="811.00" stroke="#000" stroke-width="2.6" stroke-linecap="butt"/>
<line x1="321.36" y1="829.00" x2="340.36" y2="829.00" stroke="#000" stroke-width="2.6" stroke-linecap="butt"/>
<line x1="374.38" y1="845.00" x2="374.38" y2="865.00" stroke="#000" stroke-width="2.6" stroke-linecap="butt"/>
<line x1="364.88" y1="845.00" x2="383.88" y2="845.00" stroke="#000" stroke-width="2.6" stroke-linecap="butt"/>
<line x1="364.88" y1="865.00" x2="383.88" y2="865.00" stroke="#000" stroke-width="2.6" stroke-linecap="butt"/>
<line x1="385.26" y1="845.20" x2="385.26" y2="873.20" stroke="#000" stroke-width="2.6" stroke-linecap="butt"/>
<line x1="375.76" y1="845.20" x2="394.76" y2="845.20" stroke="#000" stroke-width="2.6" stroke-linecap="butt"/>
<line x1="375.76" y1="873.20" x2="394.76" y2="873.20" stroke="#000" stroke-width="2.6" stroke-linecap="butt"/>
<line x1="396.14" y1="848.30" x2="396.14" y2="878.30" stroke="#000" stroke-width="2.6" stroke-linecap="butt"/>
<line x1="386.64" y1="848.30" x2="405.64" y2="848.30" stroke="#000" stroke-width="2.6" stroke-linecap="butt"/>
<line x1="386.64" y1="878.30" x2="405.64" y2="878.30" stroke="#000" stroke-width="2.6" stroke-linecap="butt"/>
<line x1="407.02" y1="851.50" x2="407.02" y2="883.50" stroke="#000" stroke-width="2.6" stroke-linecap="butt"/>
<line x1="397.52" y1="851.50" x2="416.52" y2="851.50" stroke="#000" stroke-width="2.6" stroke-linecap="butt"/>
<line x1="397.52" y1="883.50" x2="416.52" y2="883.50" stroke="#000" stroke-width="2.6" stroke-linecap="butt"/>
<line x1="417.90" y1="852.20" x2="417.90" y2="886.20" stroke="#000" stroke-width="2.6" stroke-linecap="butt"/>
<line x1="408.40" y1="852.20" x2="427.40" y2="852.20" stroke="#000" stroke-width="2.6" stroke-linecap="butt"/>
<line x1="408.40" y1="886.20" x2="427.40" y2="886.20" stroke="#000" stroke-width="2.6" stroke-linecap="butt"/>
<line x1="428.78" y1="859.50" x2="428.78" y2="895.50" stroke="#000" stroke-width="2.6" stroke-linecap="butt"/>
<line x1="419.28" y1="859.50" x2="438.28" y2="859.50" stroke="#000" stroke-width="2.6" stroke-linecap="butt"/>
<line x1="419.28" y1="895.50" x2="438.28" y2="895.50" stroke="#000" stroke-width="2.6" stroke-linecap="butt"/>
<line x1="439.66" y1="856.70" x2="439.66" y2="896.70" stroke="#000" stroke-width="2.6" stroke-linecap="butt"/>
<line x1="430.16" y1="856.70" x2="449.16" y2="856.70" stroke="#000" stroke-width="2.6" stroke-linecap="butt"/>
<line x1="430.16" y1="896.70" x2="449.16" y2="896.70" stroke="#000" stroke-width="2.6" stroke-linecap="butt"/>
<line x1="450.54" y1="858.30" x2="450.54" y2="898.30" stroke="#000" stroke-width="2.6" stroke-linecap="butt"/>
<line x1="441.04" y1="858.30" x2="460.04" y2="858.30" stroke="#000" stroke-width="2.6" stroke-linecap="butt"/>
<line x1="441.04" y1="898.30" x2="460.04" y2="898.30" stroke="#000" stroke-width="2.6" stroke-linecap="butt"/>
<line x1="461.42" y1="859.00" x2="461.42" y2="901.00" stroke="#000" stroke-width="2.6" stroke-linecap="butt"/>
<line x1="451.92" y1="859.00" x2="470.92" y2="859.00" stroke="#000" stroke-width="2.6" stroke-linecap="butt"/>
<line x1="451.92" y1="901.00" x2="470.92" y2="901.00" stroke="#000" stroke-width="2.6" stroke-linecap="butt"/>
<line x1="472.30" y1="861.70" x2="472.30" y2="901.70" stroke="#000" stroke-width="2.6" stroke-linecap="butt"/>
<line x1="462.80" y1="861.70" x2="481.80" y2="861.70" stroke="#000" stroke-width="2.6" stroke-linecap="butt"/>
<line x1="462.80" y1="901.70" x2="481.80" y2="901.70" stroke="#000" stroke-width="2.6" stroke-linecap="butt"/>
<circle cx="319.98" cy="810.80" r="7.80" fill="#000"/>
<circle cx="330.86" cy="820.00" r="7.80" fill="#000"/>
<circle cx="341.74" cy="828.30" r="7.80" fill="#000"/>
<circle cx="352.62" cy="834.20" r="7.80" fill="#000"/>
<circle cx="363.50" cy="841.70" r="7.80" fill="#000"/>
<circle cx="374.38" cy="855.00" r="7.80" fill="#000"/>
<circle cx="385.26" cy="859.20" r="7.80" fill="#000"/>
<circle cx="396.14" cy="863.30" r="7.80" fill="#000"/>
<circle cx="407.02" cy="867.50" r="7.80" fill="#000"/>
<circle cx="417.90" cy="869.20" r="7.80" fill="#000"/>
<circle cx="428.78" cy="877.50" r="7.80" fill="#000"/>
<circle cx="439.66" cy="876.70" r="7.80" fill="#000"/>
<circle cx="450.54" cy="878.30" r="7.80" fill="#000"/>
<circle cx="461.42" cy="880.00" r="7.80" fill="#000"/>
<circle cx="472.30" cy="881.70" r="7.80" fill="#000"/>
<text transform="translate(658.41,704.00) scale(1.0454,1)" font-family="'Liberation Serif', serif" font-size="54.40" fill="#000" stroke="#000" stroke-width="0.35" stroke-linejoin="round">E</text>
<text transform="translate(727.73,768.78) scale(0.9600,1)" font-family="'Liberation Serif', serif" font-size="29.50" fill="#000" stroke="#000" stroke-width="0.35" stroke-linejoin="round">1.2</text>
<text transform="translate(727.28,830.28) scale(0.9600,1)" font-family="'Liberation Serif', serif" font-size="29.50" fill="#000" stroke="#000" stroke-width="0.35" stroke-linejoin="round">1.0</text>
<text transform="translate(727.28,891.78) scale(0.9600,1)" font-family="'Liberation Serif', serif" font-size="29.50" fill="#000" stroke="#000" stroke-width="0.35" stroke-linejoin="round">0.8</text>
<text transform="translate(726.84,953.28) scale(0.9600,1)" font-family="'Liberation Serif', serif" font-size="29.50" fill="#000" stroke="#000" stroke-width="0.35" stroke-linejoin="round">0.6</text>
<text transform="translate(726.84,1014.78) scale(0.9600,1)" font-family="'Liberation Serif', serif" font-size="29.50" fill="#000" stroke="#000" stroke-width="0.35" stroke-linejoin="round">0.4</text>
<text transform="translate(688.10,1025.42) rotate(-90) scale(1.0420,1)" font-family="'Liberation Serif', serif" font-size="31.86" fill="#000" stroke="#000" stroke-width="0.35" stroke-linejoin="round">Normalized current</text>
<line x1="786.80" y1="758.00" x2="786.80" y2="1015.80" stroke="#000" stroke-width="2.9" stroke-linecap="butt"/>
<line x1="775.50" y1="759.40" x2="786.80" y2="759.40" stroke="#000" stroke-width="2.9" stroke-linecap="butt"/>
<line x1="775.50" y1="820.90" x2="786.80" y2="820.90" stroke="#000" stroke-width="2.9" stroke-linecap="butt"/>
<line x1="775.50" y1="882.40" x2="786.80" y2="882.40" stroke="#000" stroke-width="2.9" stroke-linecap="butt"/>
<line x1="775.50" y1="943.90" x2="786.80" y2="943.90" stroke="#000" stroke-width="2.9" stroke-linecap="butt"/>
<line x1="775.50" y1="1005.40" x2="786.80" y2="1005.40" stroke="#000" stroke-width="2.9" stroke-linecap="butt"/>
<line x1="775.50" y1="1005.50" x2="808.80" y2="1005.50" stroke="#000" stroke-width="2.8" stroke-linecap="butt"/>
<line x1="808.80" y1="999.00" x2="808.80" y2="1012.50" stroke="#000" stroke-width="3.3" stroke-linecap="butt"/>
<line x1="835.60" y1="1005.30" x2="1054.30" y2="1005.30" stroke="#000" stroke-width="2.8" stroke-linecap="butt"/>
<line x1="835.60" y1="999.00" x2="835.60" y2="1012.50" stroke="#000" stroke-width="3.0" stroke-linecap="butt"/>
<line x1="922.00" y1="1005.00" x2="922.00" y2="1015.70" stroke="#000" stroke-width="2.9" stroke-linecap="butt"/>
<line x1="1008.80" y1="1005.00" x2="1008.80" y2="1015.70" stroke="#000" stroke-width="2.9" stroke-linecap="butt"/>
<text transform="translate(777.55,1048.46) scale(1.0829,1)" font-family="'Liberation Serif', serif" font-size="28.07" fill="#000" stroke="#000" stroke-width="0.35" stroke-linejoin="round">0</text>
<text transform="translate(822.72,1049.07) scale(1.0243,1)" font-family="'Liberation Serif', serif" font-size="27.49" fill="#000" stroke="#000" stroke-width="0.35" stroke-linejoin="round">80</text>
<text transform="translate(902.39,1049.07) scale(1.0306,1)" font-family="'Liberation Serif', serif" font-size="27.49" fill="#000" stroke="#000" stroke-width="0.35" stroke-linejoin="round">120</text>
<text transform="translate(985.02,1049.07) scale(1.0149,1)" font-family="'Liberation Serif', serif" font-size="27.49" fill="#000" stroke="#000" stroke-width="0.35" stroke-linejoin="round">160</text>
<text transform="translate(890.25,1102.28) scale(1.0201,1)" font-family="'Liberation Serif', serif" font-size="32.54" fill="#000" stroke="#000" stroke-width="0.35" stroke-linejoin="round">t (s)</text>
<text transform="translate(826.53,978.20) scale(1.1613,1)" font-family="'Liberation Serif', serif" font-size="25.88" fill="#000" stroke="#000" stroke-width="0.35" stroke-linejoin="round">NaCl</text>
<circle cx="786.00" cy="819.90" r="7.65" fill="none" stroke="#000" stroke-width="1.9"/>
<line x1="855.00" y1="782.10" x2="855.00" y2="801.30" stroke="#000" stroke-width="2.6" stroke-linecap="butt"/>
<line x1="845.50" y1="782.10" x2="864.50" y2="782.10" stroke="#000" stroke-width="2.6" stroke-linecap="butt"/>
<line x1="845.50" y1="801.30" x2="864.50" y2="801.30" stroke="#000" stroke-width="2.6" stroke-linecap="butt"/>
<line x1="865.95" y1="782.50" x2="865.95" y2="802.50" stroke="#000" stroke-width="2.6" stroke-linecap="butt"/>
<line x1="856.45" y1="782.50" x2="875.45" y2="782.50" stroke="#000" stroke-width="2.6" stroke-linecap="butt"/>
<line x1="856.45" y1="802.50" x2="875.45" y2="802.50" stroke="#000" stroke-width="2.6" stroke-linecap="butt"/>
<line x1="876.90" y1="784.20" x2="876.90" y2="805.20" stroke="#000" stroke-width="2.6" stroke-linecap="butt"/>
<line x1="867.40" y1="784.20" x2="886.40" y2="784.20" stroke="#000" stroke-width="2.6" stroke-linecap="butt"/>
<line x1="867.40" y1="805.20" x2="886.40" y2="805.20" stroke="#000" stroke-width="2.6" stroke-linecap="butt"/>
<line x1="887.85" y1="784.50" x2="887.85" y2="805.50" stroke="#000" stroke-width="2.6" stroke-linecap="butt"/>
<line x1="878.35" y1="784.50" x2="897.35" y2="784.50" stroke="#000" stroke-width="2.6" stroke-linecap="butt"/>
<line x1="878.35" y1="805.50" x2="897.35" y2="805.50" stroke="#000" stroke-width="2.6" stroke-linecap="butt"/>
<line x1="898.80" y1="785.70" x2="898.80" y2="807.70" stroke="#000" stroke-width="2.6" stroke-linecap="butt"/>
<line x1="889.30" y1="785.70" x2="908.30" y2="785.70" stroke="#000" stroke-width="2.6" stroke-linecap="butt"/>
<line x1="889.30" y1="807.70" x2="908.30" y2="807.70" stroke="#000" stroke-width="2.6" stroke-linecap="butt"/>
<line x1="909.75" y1="794.30" x2="909.75" y2="817.30" stroke="#000" stroke-width="2.6" stroke-linecap="butt"/>
<line x1="900.25" y1="794.30" x2="919.25" y2="794.30" stroke="#000" stroke-width="2.6" stroke-linecap="butt"/>
<line x1="900.25" y1="817.30" x2="919.25" y2="817.30" stroke="#000" stroke-width="2.6" stroke-linecap="butt"/>
<line x1="920.70" y1="791.60" x2="920.70" y2="815.00" stroke="#000" stroke-width="2.6" stroke-linecap="butt"/>
<line x1="911.20" y1="791.60" x2="930.20" y2="791.60" stroke="#000" stroke-width="2.6" stroke-linecap="butt"/>
<line x1="911.20" y1="815.00" x2="930.20" y2="815.00" stroke="#000" stroke-width="2.6" stroke-linecap="butt"/>
<line x1="931.65" y1="792.20" x2="931.65" y2="816.20" stroke="#000" stroke-width="2.6" stroke-linecap="butt"/>
<line x1="922.15" y1="792.20" x2="941.15" y2="792.20" stroke="#000" stroke-width="2.6" stroke-linecap="butt"/>
<line x1="922.15" y1="816.20" x2="941.15" y2="816.20" stroke="#000" stroke-width="2.6" stroke-linecap="butt"/>
<line x1="942.60" y1="793.80" x2="942.60" y2="817.80" stroke="#000" stroke-width="2.6" stroke-linecap="butt"/>
<line x1="933.10" y1="793.80" x2="952.10" y2="793.80" stroke="#000" stroke-width="2.6" stroke-linecap="butt"/>
<line x1="933.10" y1="817.80" x2="952.10" y2="817.80" stroke="#000" stroke-width="2.6" stroke-linecap="butt"/>
<line x1="953.55" y1="795.50" x2="953.55" y2="819.50" stroke="#000" stroke-width="2.6" stroke-linecap="butt"/>
<line x1="944.05" y1="795.50" x2="963.05" y2="795.50" stroke="#000" stroke-width="2.6" stroke-linecap="butt"/>
<line x1="944.05" y1="819.50" x2="963.05" y2="819.50" stroke="#000" stroke-width="2.6" stroke-linecap="butt"/>
<line x1="964.50" y1="808.30" x2="964.50" y2="833.30" stroke="#000" stroke-width="2.6" stroke-linecap="butt"/>
<line x1="955.00" y1="808.30" x2="974.00" y2="808.30" stroke="#000" stroke-width="2.6" stroke-linecap="butt"/>
<line x1="955.00" y1="833.30" x2="974.00" y2="833.30" stroke="#000" stroke-width="2.6" stroke-linecap="butt"/>
<line x1="975.45" y1="809.00" x2="975.45" y2="835.00" stroke="#000" stroke-width="2.6" stroke-linecap="butt"/>
<line x1="965.95" y1="809.00" x2="984.95" y2="809.00" stroke="#000" stroke-width="2.6" stroke-linecap="butt"/>
<line x1="965.95" y1="835.00" x2="984.95" y2="835.00" stroke="#000" stroke-width="2.6" stroke-linecap="butt"/>
<line x1="986.40" y1="810.30" x2="986.40" y2="836.30" stroke="#000" stroke-width="2.6" stroke-linecap="butt"/>
<line x1="976.90" y1="810.30" x2="995.90" y2="810.30" stroke="#000" stroke-width="2.6" stroke-linecap="butt"/>
<line x1="976.90" y1="836.30" x2="995.90" y2="836.30" stroke="#000" stroke-width="2.6" stroke-linecap="butt"/>
<line x1="997.35" y1="807.20" x2="997.35" y2="832.20" stroke="#000" stroke-width="2.6" stroke-linecap="butt"/>
<line x1="987.85" y1="807.20" x2="1006.85" y2="807.20" stroke="#000" stroke-width="2.6" stroke-linecap="butt"/>
<line x1="987.85" y1="832.20" x2="1006.85" y2="832.20" stroke="#000" stroke-width="2.6" stroke-linecap="butt"/>
<line x1="1008.30" y1="809.00" x2="1008.30" y2="835.00" stroke="#000" stroke-width="2.6" stroke-linecap="butt"/>
<line x1="998.80" y1="809.00" x2="1017.80" y2="809.00" stroke="#000" stroke-width="2.6" stroke-linecap="butt"/>
<line x1="998.80" y1="835.00" x2="1017.80" y2="835.00" stroke="#000" stroke-width="2.6" stroke-linecap="butt"/>
<circle cx="855.00" cy="791.70" r="6.30" fill="#fff" stroke="#000" stroke-width="2.4"/>
<circle cx="865.95" cy="792.50" r="6.30" fill="#fff" stroke="#000" stroke-width="2.4"/>
<circle cx="876.90" cy="794.70" r="6.30" fill="#fff" stroke="#000" stroke-width="2.4"/>
<circle cx="887.85" cy="795.00" r="6.30" fill="#fff" stroke="#000" stroke-width="2.4"/>
<circle cx="898.80" cy="796.70" r="6.30" fill="#fff" stroke="#000" stroke-width="2.4"/>
<circle cx="909.75" cy="805.80" r="6.30" fill="#fff" stroke="#000" stroke-width="2.4"/>
<circle cx="920.70" cy="803.30" r="6.30" fill="#fff" stroke="#000" stroke-width="2.4"/>
<circle cx="931.65" cy="804.20" r="6.30" fill="#fff" stroke="#000" stroke-width="2.4"/>
<circle cx="942.60" cy="805.80" r="6.30" fill="#fff" stroke="#000" stroke-width="2.4"/>
<circle cx="953.55" cy="807.50" r="6.30" fill="#fff" stroke="#000" stroke-width="2.4"/>
<circle cx="964.50" cy="820.80" r="6.30" fill="#fff" stroke="#000" stroke-width="2.4"/>
<circle cx="975.45" cy="822.00" r="6.30" fill="#fff" stroke="#000" stroke-width="2.4"/>
<circle cx="986.40" cy="823.30" r="6.30" fill="#fff" stroke="#000" stroke-width="2.4"/>
<circle cx="997.35" cy="819.70" r="6.30" fill="#fff" stroke="#000" stroke-width="2.4"/>
<circle cx="1008.30" cy="822.00" r="6.30" fill="#fff" stroke="#000" stroke-width="2.4"/>
<line x1="855.00" y1="819.30" x2="855.00" y2="837.30" stroke="#000" stroke-width="2.6" stroke-linecap="butt"/>
<line x1="845.50" y1="819.30" x2="864.50" y2="819.30" stroke="#000" stroke-width="2.6" stroke-linecap="butt"/>
<line x1="845.50" y1="837.30" x2="864.50" y2="837.30" stroke="#000" stroke-width="2.6" stroke-linecap="butt"/>
<line x1="865.95" y1="826.70" x2="865.95" y2="846.70" stroke="#000" stroke-width="2.6" stroke-linecap="butt"/>
<line x1="856.45" y1="826.70" x2="875.45" y2="826.70" stroke="#000" stroke-width="2.6" stroke-linecap="butt"/>
<line x1="856.45" y1="846.70" x2="875.45" y2="846.70" stroke="#000" stroke-width="2.6" stroke-linecap="butt"/>
<line x1="876.90" y1="829.80" x2="876.90" y2="851.80" stroke="#000" stroke-width="2.6" stroke-linecap="butt"/>
<line x1="867.40" y1="829.80" x2="886.40" y2="829.80" stroke="#000" stroke-width="2.6" stroke-linecap="butt"/>
<line x1="867.40" y1="851.80" x2="886.40" y2="851.80" stroke="#000" stroke-width="2.6" stroke-linecap="butt"/>
<line x1="887.85" y1="836.00" x2="887.85" y2="859.00" stroke="#000" stroke-width="2.6" stroke-linecap="butt"/>
<line x1="878.35" y1="836.00" x2="897.35" y2="836.00" stroke="#000" stroke-width="2.6" stroke-linecap="butt"/>
<line x1="878.35" y1="859.00" x2="897.35" y2="859.00" stroke="#000" stroke-width="2.6" stroke-linecap="butt"/>
<line x1="898.80" y1="841.30" x2="898.80" y2="865.30" stroke="#000" stroke-width="2.6" stroke-linecap="butt"/>
<line x1="889.30" y1="841.30" x2="908.30" y2="841.30" stroke="#000" stroke-width="2.6" stroke-linecap="butt"/>
<line x1="889.30" y1="865.30" x2="908.30" y2="865.30" stroke="#000" stroke-width="2.6" stroke-linecap="butt"/>
<line x1="909.75" y1="852.20" x2="909.75" y2="876.20" stroke="#000" stroke-width="2.6" stroke-linecap="butt"/>
<line x1="900.25" y1="852.20" x2="919.25" y2="852.20" stroke="#000" stroke-width="2.6" stroke-linecap="butt"/>
<line x1="900.25" y1="876.20" x2="919.25" y2="876.20" stroke="#000" stroke-width="2.6" stroke-linecap="butt"/>
<line x1="920.70" y1="852.80" x2="920.70" y2="878.80" stroke="#000" stroke-width="2.6" stroke-linecap="butt"/>
<line x1="911.20" y1="852.80" x2="930.20" y2="852.80" stroke="#000" stroke-width="2.6" stroke-linecap="butt"/>
<line x1="911.20" y1="878.80" x2="930.20" y2="878.80" stroke="#000" stroke-width="2.6" stroke-linecap="butt"/>
<line x1="931.65" y1="857.00" x2="931.65" y2="883.00" stroke="#000" stroke-width="2.6" stroke-linecap="butt"/>
<line x1="922.15" y1="857.00" x2="941.15" y2="857.00" stroke="#000" stroke-width="2.6" stroke-linecap="butt"/>
<line x1="922.15" y1="883.00" x2="941.15" y2="883.00" stroke="#000" stroke-width="2.6" stroke-linecap="butt"/>
<line x1="942.60" y1="860.20" x2="942.60" y2="888.20" stroke="#000" stroke-width="2.6" stroke-linecap="butt"/>
<line x1="933.10" y1="860.20" x2="952.10" y2="860.20" stroke="#000" stroke-width="2.6" stroke-linecap="butt"/>
<line x1="933.10" y1="888.20" x2="952.10" y2="888.20" stroke="#000" stroke-width="2.6" stroke-linecap="butt"/>
<line x1="953.55" y1="865.20" x2="953.55" y2="893.20" stroke="#000" stroke-width="2.6" stroke-linecap="butt"/>
<line x1="944.05" y1="865.20" x2="963.05" y2="865.20" stroke="#000" stroke-width="2.6" stroke-linecap="butt"/>
<line x1="944.05" y1="893.20" x2="963.05" y2="893.20" stroke="#000" stroke-width="2.6" stroke-linecap="butt"/>
<line x1="964.50" y1="872.70" x2="964.50" y2="900.70" stroke="#000" stroke-width="2.6" stroke-linecap="butt"/>
<line x1="955.00" y1="872.70" x2="974.00" y2="872.70" stroke="#000" stroke-width="2.6" stroke-linecap="butt"/>
<line x1="955.00" y1="900.70" x2="974.00" y2="900.70" stroke="#000" stroke-width="2.6" stroke-linecap="butt"/>
<line x1="975.45" y1="874.20" x2="975.45" y2="904.20" stroke="#000" stroke-width="2.6" stroke-linecap="butt"/>
<line x1="965.95" y1="874.20" x2="984.95" y2="874.20" stroke="#000" stroke-width="2.6" stroke-linecap="butt"/>
<line x1="965.95" y1="904.20" x2="984.95" y2="904.20" stroke="#000" stroke-width="2.6" stroke-linecap="butt"/>
<line x1="986.40" y1="876.70" x2="986.40" y2="906.70" stroke="#000" stroke-width="2.6" stroke-linecap="butt"/>
<line x1="976.90" y1="876.70" x2="995.90" y2="876.70" stroke="#000" stroke-width="2.6" stroke-linecap="butt"/>
<line x1="976.90" y1="906.70" x2="995.90" y2="906.70" stroke="#000" stroke-width="2.6" stroke-linecap="butt"/>
<line x1="997.35" y1="880.30" x2="997.35" y2="911.30" stroke="#000" stroke-width="2.6" stroke-linecap="butt"/>
<line x1="987.85" y1="880.30" x2="1006.85" y2="880.30" stroke="#000" stroke-width="2.6" stroke-linecap="butt"/>
<line x1="987.85" y1="911.30" x2="1006.85" y2="911.30" stroke="#000" stroke-width="2.6" stroke-linecap="butt"/>
<line x1="1008.30" y1="883.70" x2="1008.30" y2="914.70" stroke="#000" stroke-width="2.6" stroke-linecap="butt"/>
<line x1="998.80" y1="883.70" x2="1017.80" y2="883.70" stroke="#000" stroke-width="2.6" stroke-linecap="butt"/>
<line x1="998.80" y1="914.70" x2="1017.80" y2="914.70" stroke="#000" stroke-width="2.6" stroke-linecap="butt"/>
<circle cx="855.00" cy="828.30" r="7.70" fill="#000"/>
<circle cx="865.95" cy="836.70" r="7.70" fill="#000"/>
<circle cx="876.90" cy="840.80" r="7.70" fill="#000"/>
<circle cx="887.85" cy="847.50" r="7.70" fill="#000"/>
<circle cx="898.80" cy="853.30" r="7.70" fill="#000"/>
<circle cx="909.75" cy="864.20" r="7.70" fill="#000"/>
<circle cx="920.70" cy="865.80" r="7.70" fill="#000"/>
<circle cx="931.65" cy="870.00" r="7.70" fill="#000"/>
<circle cx="942.60" cy="874.20" r="7.70" fill="#000"/>
<circle cx="953.55" cy="879.20" r="7.70" fill="#000"/>
<circle cx="964.50" cy="886.70" r="7.70" fill="#000"/>
<circle cx="975.45" cy="889.20" r="7.70" fill="#000"/>
<circle cx="986.40" cy="891.70" r="7.70" fill="#000"/>
<circle cx="997.35" cy="895.80" r="7.70" fill="#000"/>
<circle cx="1008.30" cy="899.20" r="7.70" fill="#000"/>
<text transform="translate(100.18,1166.90) scale(0.9846,1)" font-family="'Liberation Serif', serif" font-size="53.18" fill="#000" stroke="#000" stroke-width="0.35" stroke-linejoin="round">F</text>
<text transform="translate(166.44,1197.28) scale(0.9500,1)" font-family="'Liberation Serif', serif" font-size="29.80" fill="#000" stroke="#000" stroke-width="0.35" stroke-linejoin="round">1.25</text>
<text transform="translate(166.44,1284.68) scale(0.9500,1)" font-family="'Liberation Serif', serif" font-size="29.80" fill="#000" stroke="#000" stroke-width="0.35" stroke-linejoin="round">1.00</text>
<text transform="translate(166.44,1372.08) scale(0.9500,1)" font-family="'Liberation Serif', serif" font-size="29.80" fill="#000" stroke="#000" stroke-width="0.35" stroke-linejoin="round">0.75</text>
<text transform="translate(166.44,1459.48) scale(0.9500,1)" font-family="'Liberation Serif', serif" font-size="29.80" fill="#000" stroke="#000" stroke-width="0.35" stroke-linejoin="round">0.50</text>
<text transform="translate(166.44,1546.88) scale(0.9500,1)" font-family="'Liberation Serif', serif" font-size="29.80" fill="#000" stroke="#000" stroke-width="0.35" stroke-linejoin="round">0.25</text>
<text transform="translate(166.44,1634.28) scale(0.9500,1)" font-family="'Liberation Serif', serif" font-size="29.80" fill="#000" stroke="#000" stroke-width="0.35" stroke-linejoin="round">0.00</text>
<text transform="translate(145.20,1552.42) rotate(-90) scale(1.0417,1)" font-family="'Liberation Serif', serif" font-size="31.72" fill="#000" stroke="#000" stroke-width="0.35" stroke-linejoin="round">Normalized current</text>
<line x1="241.00" y1="1184.90" x2="241.00" y2="1624.60" stroke="#000" stroke-width="3.2" stroke-linecap="butt"/>
<line x1="227.20" y1="1186.00" x2="241.00" y2="1186.00" stroke="#000" stroke-width="3.2" stroke-linecap="butt"/>
<line x1="227.20" y1="1273.40" x2="241.00" y2="1273.40" stroke="#000" stroke-width="3.2" stroke-linecap="butt"/>
<line x1="227.20" y1="1360.80" x2="241.00" y2="1360.80" stroke="#000" stroke-width="3.2" stroke-linecap="butt"/>
<line x1="227.20" y1="1448.20" x2="241.00" y2="1448.20" stroke="#000" stroke-width="3.2" stroke-linecap="butt"/>
<line x1="227.20" y1="1535.60" x2="241.00" y2="1535.60" stroke="#000" stroke-width="3.2" stroke-linecap="butt"/>
<line x1="227.20" y1="1623.00" x2="241.00" y2="1623.00" stroke="#000" stroke-width="3.2" stroke-linecap="butt"/>
<line x1="268.40" y1="1324.20" x2="268.40" y2="1348.00" stroke="#000" stroke-width="2.6" stroke-linecap="butt"/>
<line x1="257.90" y1="1324.20" x2="278.90" y2="1324.20" stroke="#000" stroke-width="2.6" stroke-linecap="butt"/>
<rect x="252.10" y="1348.00" width="32.60" height="275.00" fill="#000"/>
<line x1="308.00" y1="1227.00" x2="308.00" y2="1249.20" stroke="#000" stroke-width="2.6" stroke-linecap="butt"/>
<line x1="297.50" y1="1227.00" x2="318.50" y2="1227.00" stroke="#000" stroke-width="2.6" stroke-linecap="butt"/>
<rect x="291.00" y="1249.20" width="34.00" height="373.80" fill="#9cb2c1"/>
<line x1="388.10" y1="1341.70" x2="388.10" y2="1360.70" stroke="#000" stroke-width="2.6" stroke-linecap="butt"/>
<line x1="377.60" y1="1341.70" x2="398.60" y2="1341.70" stroke="#000" stroke-width="2.6" stroke-linecap="butt"/>
<rect x="371.80" y="1360.70" width="32.60" height="262.30" fill="#000"/>
<line x1="427.75" y1="1264.70" x2="427.75" y2="1280.90" stroke="#000" stroke-width="2.6" stroke-linecap="butt"/>
<line x1="417.25" y1="1264.70" x2="438.25" y2="1264.70" stroke="#000" stroke-width="2.6" stroke-linecap="butt"/>
<rect x="410.80" y="1280.90" width="33.90" height="342.10" fill="#9cb2c1"/>
<text transform="translate(297.70,1231.26) scale(1.4259,1)" font-family="'Liberation Sans', sans-serif" font-weight="bold" font-size="41.47" fill="#000">*</text>
<text transform="translate(415.20,1266.02) scale(1.4085,1)" font-family="'Liberation Sans', sans-serif" font-weight="bold" font-size="41.98" fill="#000">*</text>
<rect x="480.80" y="1280.30" width="39.20" height="30.50" fill="#000"/>
<rect x="480.80" y="1327.50" width="41.70" height="33.30" fill="#999999"/>
<text transform="translate(537.50,1300.73) scale(0.9355,1)" font-family="'Liberation Serif', serif" font-size="30.15" fill="#000" stroke="#000" stroke-width="0.35" stroke-linejoin="round">wt</text>
<text transform="translate(535.00,1352.34) scale(1.0145,1)" font-family="'Liberation Serif', serif" font-size="29.36" fill="#000" stroke="#000" stroke-width="0.35" stroke-linejoin="round">truncated</text>
<g transform="translate(176.3,1726.9) rotate(-30)"><text x="0" y="0" font-family="'Liberation Serif', serif" font-size="29.5" fill="#000" stroke="#000" stroke-width="0.35">Mg</text><text x="42" y="-18.5" font-family="'Liberation Serif', serif" font-size="29" fill="#000" stroke="#000" stroke-width="0.35">2+</text><text x="73.8" y="0.4" font-family="'Liberation Serif', serif" font-size="30.3" fill="#000" stroke="#000" stroke-width="0.35">-ATP</text></g>
<g transform="translate(391.7,1688.3) rotate(-30)"><text x="0" y="0" font-family="'Liberation Serif', serif" font-size="29.5" fill="#000" stroke="#000" stroke-width="0.35">Na</text><text x="32.8" y="-13.7" font-family="'Liberation Serif', serif" font-size="33" fill="#000" stroke="#000" stroke-width="0.35">+</text></g>
</svg>
</body></html>
